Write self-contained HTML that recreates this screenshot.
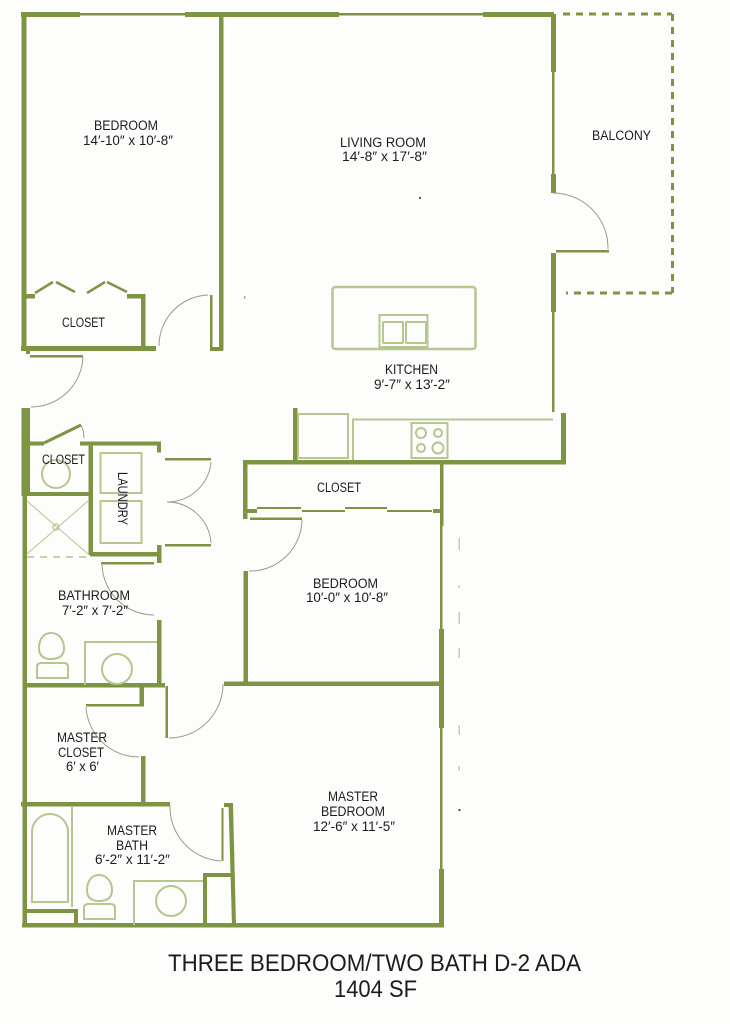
<!DOCTYPE html>
<html><head><meta charset="utf-8"><style>
html,body{margin:0;padding:0;background:#fdfdfc}
svg{display:block}
text{font-family:"Liberation Sans",sans-serif;font-size:13.5px;fill:#1c1c1c}
.t{font-size:24.5px}
</style></head><body>
<svg width="730" height="1024" viewBox="0 0 730 1024" xmlns="http://www.w3.org/2000/svg">
<rect width="730" height="1024" fill="#fdfdfc"/>
<!-- thick walls -->
<g fill="#7d9443">
<rect x="21" y="12" width="59" height="5"/><rect x="80" y="13" width="105" height="2.5"/><rect x="185" y="12" width="154" height="5"/><rect x="339" y="13" width="144" height="2.5"/><rect x="483" y="12" width="71" height="5"/>
<rect x="21.5" y="12" width="5" height="338"/>
<rect x="219" y="14" width="4.5" height="336"/>
<rect x="21" y="346" width="135" height="5"/>
<rect x="141" y="294" width="4.5" height="54"/><rect x="127" y="294" width="18" height="4.5"/><rect x="24" y="294" width="11" height="4.5"/>
<rect x="210" y="295" width="2.5" height="54"/><rect x="210" y="347" width="13" height="4"/>
<rect x="26" y="350" width="4" height="4"/>
<rect x="30" y="355" width="53" height="2.5"/>
<rect x="21.5" y="408" width="8.5" height="88"/>
<rect x="22.5" y="494" width="4.5" height="432"/>
<rect x="28" y="441.5" width="16" height="4"/>
<rect x="80" y="441.5" width="81" height="4"/><rect x="157" y="441.5" width="4" height="11"/>
<rect x="88.5" y="443" width="4.5" height="112"/>
<rect x="27" y="492" width="63" height="4"/>
<rect x="90" y="552" width="71" height="4.5"/><rect x="157" y="545" width="4.5" height="18"/>
<rect x="165" y="458" width="46" height="2.5"/><rect x="165" y="544" width="46" height="2.5"/>
<rect x="101" y="562" width="53" height="2.5"/>
<rect x="157" y="620" width="4.5" height="66"/>
<rect x="24" y="683" width="141" height="4.5"/>
<rect x="139.5" y="685" width="4.5" height="20"/>
<rect x="86" y="704" width="58" height="2.5"/>
<rect x="141" y="756" width="4.5" height="48"/>
<rect x="21" y="802" width="149" height="4.5"/>
<rect x="165.5" y="686" width="2.5" height="52"/>
<rect x="224" y="681.5" width="219" height="4.5"/>
<rect x="243.5" y="571" width="4.5" height="112"/>
<rect x="243" y="460" width="323" height="4.5"/>
<rect x="243" y="460" width="4.5" height="59"/><rect x="243" y="509" width="14" height="4"/>
<rect x="257" y="507" width="44" height="2"/><rect x="302" y="510" width="43" height="2"/><rect x="345" y="507" width="42" height="2"/><rect x="387" y="510" width="45" height="2"/><rect x="433" y="509" width="7" height="4"/>
<rect x="250" y="517.5" width="52" height="2.5"/>
<rect x="440" y="462" width="3.5" height="64"/>
<rect x="440" y="526" width="2.5" height="104"/>
<rect x="439" y="629" width="5" height="99"/>
<rect x="440" y="728" width="2.5" height="141"/>
<rect x="439" y="869" width="5" height="58"/>
<rect x="22" y="923" width="422" height="4.5"/>
<rect x="25" y="909" width="53" height="4"/><rect x="74" y="909" width="4" height="16"/>
<rect x="203" y="873" width="4" height="52"/><rect x="203" y="873" width="30" height="4"/>
<polygon points="228.5,803 233,803 236,925 232,925"/>
<rect x="224" y="803" width="8" height="4"/>
<rect x="221.5" y="808" width="2" height="53"/>
<rect x="293" y="408" width="4.5" height="54"/>
<rect x="561" y="413" width="5" height="51"/>
<rect x="551" y="14" width="5" height="58"/><rect x="552" y="72" width="2.5" height="102"/><rect x="551" y="174" width="5" height="19"/>
<rect x="551" y="253" width="5" height="59"/><rect x="552" y="312" width="2.5" height="100"/>
<rect x="556" y="250" width="53" height="2.5"/>
</g>
<!-- bifold / angled -->
<g stroke="#7d9443" stroke-width="2.5" fill="none">
<path d="M35 293L53 282M56 282L75 292M87 293L105 282M107 282L127 292"/>
<path d="M44 443L81 425" stroke-width="3"/>
<path d="M563 14H672M672.5 14V293M672 293H566" stroke-width="3" stroke-dasharray="7 6"/>
</g>
<!-- door arcs -->
<g stroke="#9a9a85" stroke-width="1" fill="none">
<path d="M159 346A51 51 0 0 1 208 295"/>
<path d="M83 357A52 52 0 0 1 31 407"/>
<path d="M81 425Q84 431 84 438"/>
<path d="M211 462A44 44 0 0 1 167 502"/>
<path d="M167 502A44 44 0 0 1 211 543"/>
<path d="M102 565A52 52 0 0 0 154 615"/>
<path d="M86 707A53 53 0 0 0 139 757"/>
<path d="M169 738A54 54 0 0 0 223 684"/>
<path d="M170 806A54 54 0 0 0 221 861"/>
<path d="M302 520A52 52 0 0 1 249 571"/>
<path d="M553 193A55 55 0 0 1 608 249"/>
</g>
<!-- fixtures -->
<g stroke="#b5c68f" stroke-width="2" fill="none">
<rect x="100.5" y="453" width="41" height="40"/>
<rect x="100.5" y="501" width="41" height="42"/>
<circle cx="56" cy="474" r="14"/>
<path d="M27 501L88 554M88 501L27 554" stroke-width="1"/>
<circle cx="56" cy="527" r="3" stroke-width="1.3"/>
<path d="M27 557H88" stroke-dasharray="7 6" stroke-width="1.5"/>
<path d="M51 633C43 633 39 640 39 648C39 656 44 659 51 659C59 659 64 656 64 648C64 640 59 633 51 633Z"/>
<path d="M37 678V667Q37 663 41 663H64Q68 663 68 667V678Z"/>
<path d="M85 685V642H157"/>
<circle cx="117" cy="669" r="15"/>
<path d="M32 902V832A18 18 0 0 1 68 832V902Z"/>
<path d="M72 806V907"/>
<path d="M99 875C91 875 87 882 87 890C87 898 92 901 99 901C107 901 112 898 112 890C112 882 107 875 99 875Z"/>
<path d="M84 919V908Q84 904 88 904H111Q115 904 115 908V919Z"/>
<path d="M134 925V881H203"/>
<circle cx="171" cy="901" r="15"/>
<rect x="332.5" y="287" width="143" height="62" rx="3" stroke-width="2.5"/>
<rect x="379.5" y="315" width="48" height="32"/>
<rect x="383" y="322" width="20" height="21" rx="1"/>
<rect x="406" y="322" width="20" height="21" rx="1"/>
<rect x="298" y="414" width="50" height="44"/>
<path d="M353 460V419.5H553"/>
<rect x="411.5" y="423" width="36" height="35"/>
<circle cx="421" cy="433" r="5"/><circle cx="438" cy="433" r="4"/><circle cx="421" cy="448" r="4"/><circle cx="438" cy="448" r="5.5"/>
</g>
<!-- specks -->
<g fill="#c8c8c4">
<rect x="458.5" y="538" width="1.5" height="12"/><rect x="458.5" y="612" width="1.5" height="12"/><rect x="458.5" y="648" width="1.5" height="10"/><rect x="458.5" y="725" width="1.5" height="10"/>
<rect x="458.5" y="585" width="1.5" height="3"/><rect x="458.5" y="766" width="1.5" height="5"/>
</g>
<rect x="458.5" y="809" width="2" height="2" fill="#444"/>
<rect x="419" y="197" width="2" height="2" fill="#8a4a4a"/>
<rect x="244" y="296" width="1.5" height="3" fill="#aaa"/>
<!-- labels -->
<text x="94" y="130" textLength="64" lengthAdjust="spacingAndGlyphs">BEDROOM</text>
<text x="83" y="145" textLength="90" lengthAdjust="spacingAndGlyphs">14′-10″ x 10′-8″</text>
<text x="340" y="147" textLength="86" lengthAdjust="spacingAndGlyphs">LIVING ROOM</text>
<text x="342" y="161" textLength="85" lengthAdjust="spacingAndGlyphs">14′-8″ x 17′-8″</text>
<text x="592" y="140" textLength="59" lengthAdjust="spacingAndGlyphs">BALCONY</text>
<text x="62" y="327" textLength="43" lengthAdjust="spacingAndGlyphs">CLOSET</text>
<text x="385" y="374" textLength="53" lengthAdjust="spacingAndGlyphs">KITCHEN</text>
<text x="374" y="389" textLength="76" lengthAdjust="spacingAndGlyphs">9′-7″ x 13′-2″</text>
<text x="42" y="464" textLength="43" lengthAdjust="spacingAndGlyphs">CLOSET</text>
<text transform="translate(118 472) rotate(90)" textLength="53" lengthAdjust="spacingAndGlyphs">LAUNDRY</text>
<text x="317" y="492" textLength="44" lengthAdjust="spacingAndGlyphs">CLOSET</text>
<text x="58" y="600" textLength="72" lengthAdjust="spacingAndGlyphs">BATHROOM</text>
<text x="62" y="615" textLength="66" lengthAdjust="spacingAndGlyphs">7′-2″ x 7′-2″</text>
<text x="313" y="588" textLength="65" lengthAdjust="spacingAndGlyphs">BEDROOM</text>
<text x="306" y="602" textLength="82" lengthAdjust="spacingAndGlyphs">10′-0″ x 10′-8″</text>
<text x="57" y="742" textLength="50" lengthAdjust="spacingAndGlyphs">MASTER</text>
<text x="58" y="757" textLength="46" lengthAdjust="spacingAndGlyphs">CLOSET</text>
<text x="66" y="771" textLength="33" lengthAdjust="spacingAndGlyphs">6′ x 6′</text>
<text x="328" y="801" textLength="50" lengthAdjust="spacingAndGlyphs">MASTER</text>
<text x="321" y="816" textLength="64" lengthAdjust="spacingAndGlyphs">BEDROOM</text>
<text x="313" y="831" textLength="82" lengthAdjust="spacingAndGlyphs">12′-6″ x 11′-5″</text>
<text x="107" y="835" textLength="50" lengthAdjust="spacingAndGlyphs">MASTER</text>
<text x="116" y="850" textLength="32" lengthAdjust="spacingAndGlyphs">BATH</text>
<text x="95" y="864" textLength="75" lengthAdjust="spacingAndGlyphs">6′-2″ x 11′-2″</text>
<text class="t" x="168" y="971" textLength="413" lengthAdjust="spacingAndGlyphs">THREE BEDROOM/TWO BATH D-2 ADA</text>
<text class="t" x="334" y="997" textLength="83" lengthAdjust="spacingAndGlyphs">1404 SF</text>
</svg>
</body></html>
